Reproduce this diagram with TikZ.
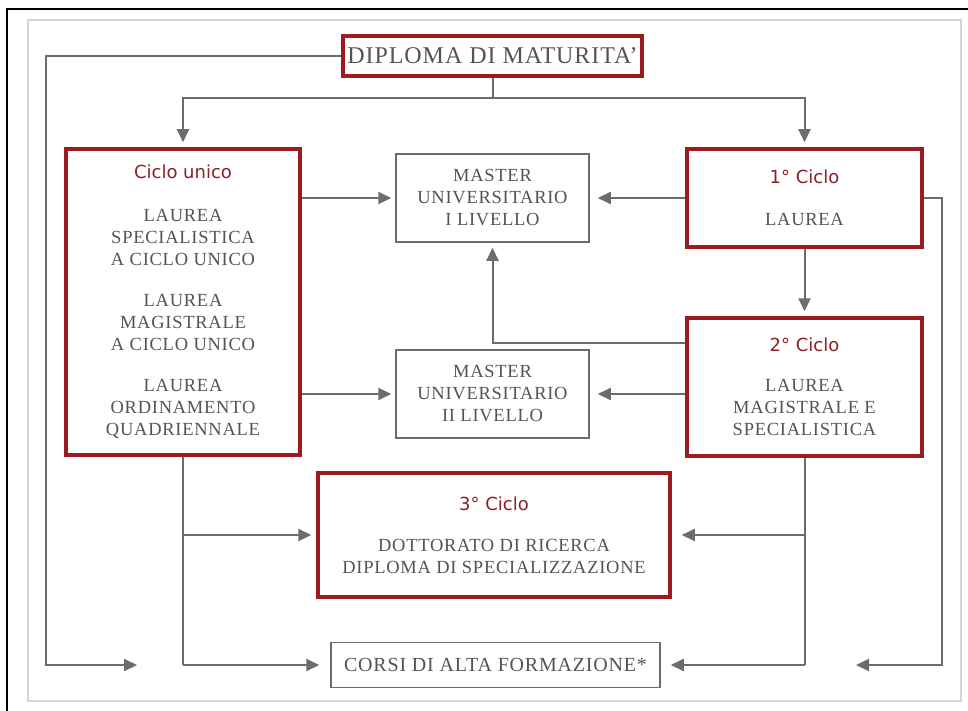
\documentclass[tikz,border=0pt]{standalone}
\usepackage{fontspec}
\setmainfont{Liberation Serif}
\newfontfamily\hdfont{DejaVu Sans}
\usetikzlibrary{arrows.meta}
\definecolor{redb}{HTML}{9B1B20}
\definecolor{redt}{HTML}{8A2128}
\definecolor{txt}{HTML}{545454}
\definecolor{ln}{HTML}{6C6C6C}
\definecolor{frm}{HTML}{D4D4D4}
\newcommand\bodyf{\fontsize{18.5}{22}\selectfont\addfontfeature{LetterSpace=4}}
\newcommand\hd[1]{{\hdfont\fontsize{18}{22}\selectfont\color{redt}#1}}
\begin{document}
\begin{tikzpicture}[x=1pt,y=-1pt,
  redbox/.style={draw=redb, line width=3.5pt, fill=white, text=txt, align=center, inner sep=0pt, font=\bodyf},
  graybox/.style={draw=ln, line width=1.5pt, fill=white, text=txt, align=center, inner sep=0pt, font=\bodyf},
  arr/.style={draw=ln, line width=2pt, -{Triangle[length=13pt,width=12pt]}, shorten >=5pt},
  con/.style={draw=ln, line width=2pt}]
\useasboundingbox (0,0) rectangle (968,711);
\fill[white] (0,0) rectangle (968,711);
\draw[black, line width=2pt] (7,711) -- (7,9) -- (968,9);
\draw[frm, line width=2pt] (28,20) rectangle (961,701);

\node[redbox, minimum width=299pt, minimum height=40pt] (dip) at (492.5,56)
  {\fontsize{24}{26}\selectfont DIPLOMA DI MATURITA'};
\node[redbox, minimum width=234pt, minimum height=306pt] (cu) at (183,302)
  {\hd{Ciclo unico}\\[21pt] LAUREA\\ SPECIALISTICA\\ A CICLO UNICO\\[19pt]
   LAUREA\\ MAGISTRALE\\ A CICLO UNICO\\[19pt] LAUREA\\ ORDINAMENTO\\ QUADRIENNALE};
\node[graybox, minimum width=193pt, minimum height=88pt] (m1) at (492.5,198)
  {\fontsize{18.5}{20}\selectfont MASTER\\ UNIVERSITARIO\\ I LIVELLO};
\node[redbox, minimum width=235pt, minimum height=98pt] (c1) at (804.5,198)
  {\hd{1° Ciclo}\\[20pt] LAUREA};
\node[redbox, minimum width=235pt, minimum height=138pt] (c2) at (804.5,387)
  {\hd{2° Ciclo}\\[18pt] LAUREA\\ MAGISTRALE E\\ SPECIALISTICA};
\node[graybox, minimum width=193pt, minimum height=88pt] (m2) at (492.5,394)
  {\fontsize{18.5}{20}\selectfont MASTER\\ UNIVERSITARIO\\ II LIVELLO};
\node[redbox, minimum width=352pt, minimum height=124pt] (c3) at (494,535)
  {\hd{3° Ciclo}\\[19pt] DOTTORATO DI RICERCA\\ DIPLOMA DI SPECIALIZZAZIONE};
\node[graybox, minimum width=329pt, minimum height=45pt] (corsi) at (495.5,665)
  {\fontsize{20}{22}\selectfont CORSI DI ALTA FORMAZIONE*};

\coordinate (j) at (492.5,98);
\coordinate (h2) at (0,343);
\coordinate (lb) at (46,665);
\coordinate (le) at (137,665);
\coordinate (rb) at (942,665);
\coordinate (re) at (856,665);

\draw[con] (dip.south) -- (j);
\draw[arr] (j) -| (cu.north);
\draw[arr] (j) -| (c1.north);
\draw[arr, shorten >=0pt] (dip.west) -| (lb) -- (le);
\draw[arr, shorten >=0pt] (c1.east) -| (rb) -- (re);
\draw[arr, shorten >=4pt] (cu.east |- m1.west) -- (m1.west);
\draw[arr, shorten >=8pt] (c1.west) -- (m1.east);
\draw[arr] (c2.west |- h2) -| (m1.south);
\draw[arr, shorten >=4pt] (cu.east |- m2.west) -- (m2.west);
\draw[arr, shorten >=8pt] (c2.west |- m2.east) -- (m2.east);
\draw[arr] (c1.south) -- (c2.north);
\coordinate (lj) at (cu.south |- corsi.west);
\coordinate (rj) at (c2.south |- corsi.east);
\draw[con] (cu.south) -- (lj);
\draw[con] (c2.south) -- (rj);
\draw[arr] (cu.south |- c3.west) -- (c3.west);
\draw[arr, shorten >=10pt] (c2.south |- c3.east) -- (c3.east);
\draw[arr, shorten >=11pt] (lj) -- (corsi.west);
\draw[arr, shorten >=10pt] (rj) -- (corsi.east);
\end{tikzpicture}
\end{document}
